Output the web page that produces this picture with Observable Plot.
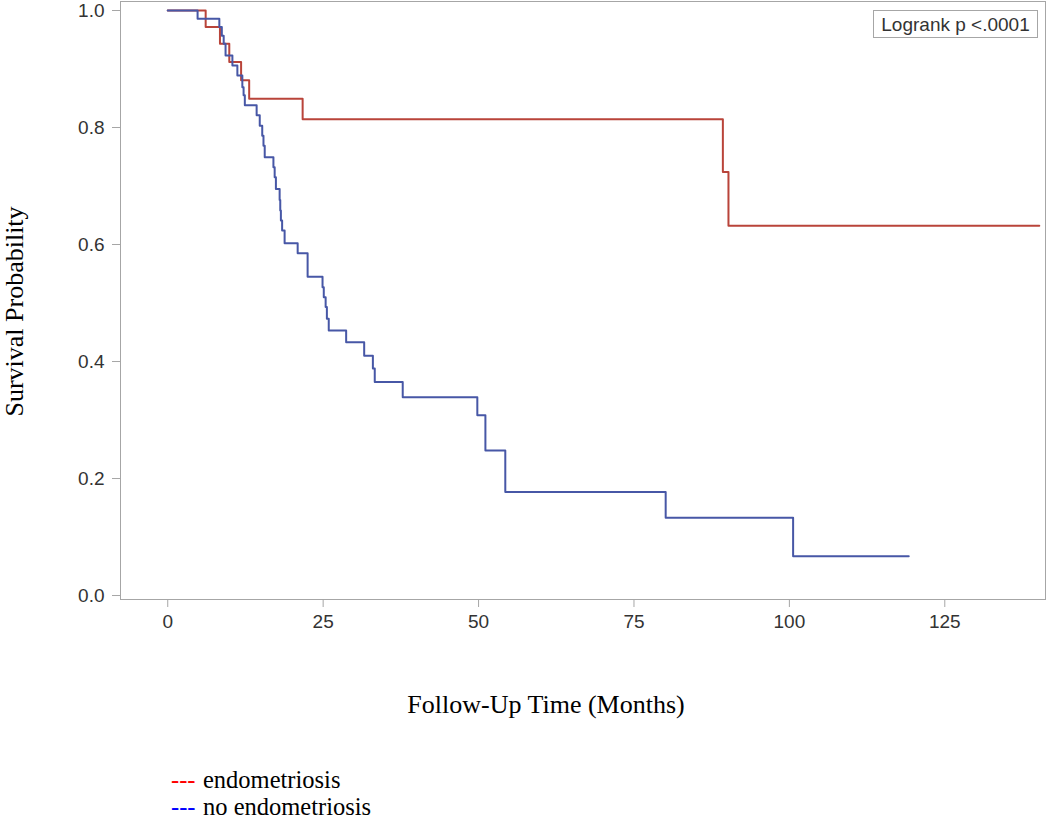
<!DOCTYPE html>
<html><head><meta charset="utf-8">
<script src="https://cdn.jsdelivr.net/npm/d3@7"></script>
<script src="https://cdn.jsdelivr.net/npm/@observablehq/plot@0.6"></script>
<style>
body{margin:0;background:#fff;}
#wrap{position:relative;width:1050px;height:820px;overflow:hidden;background:#fff;}
#wrap svg{display:block;overflow:visible;}
g[aria-label="x-axis label"] text, g[aria-label="y-axis label"] text{font-family:"Liberation Serif",serif;font-size:26px;fill:#000;}
#logrank{position:absolute;left:873px;top:10px;width:165px;height:28px;border:1px solid #a6a6a6;box-sizing:border-box;font-family:"Liberation Sans",sans-serif;font-size:19px;color:#333;line-height:27px;text-align:center;background:#fff;}
#legend{position:absolute;left:171px;top:766px;font-family:"Liberation Serif",serif;font-size:24.5px;line-height:27px;color:#000;}
#legend .dash{display:inline-block;width:32px;}
</style></head><body><div id="wrap"></div>
<script>
// Kaplan-Meier steps
const groups = ["endometriosis", "no endometriosis"];
const groupColors = ["#b9443a", "#4757a6"];
const legendColors = ["#ff0000", "#0000ff"];

const redTimes = [0, 6.1, 8.4, 9.9, 11.8, 13.1, 21.7, 89.3, 90.2];
const redSurv  = [1.0, 0.972, 0.943, 0.912, 0.881, 0.849, 0.814, 0.724, 0.632];
const redEnd = 140.2;

const blueTimes = [0, 4.8, 8.3, 8.7, 9.0, 9.3, 10.4, 11.2, 12.0, 12.2, 12.4, 14.3, 14.8, 15.2, 15.4, 15.6,
  17.0, 17.2, 17.4, 18.0, 18.1, 18.2, 18.4, 18.8, 20.9, 22.5, 24.9, 25.1, 25.4, 25.6, 25.9,
  28.7, 31.6, 33.0, 33.3, 37.8, 49.8, 51.1, 54.3, 80.1, 100.6];
const blueSurv = [1.0, 0.986, 0.972, 0.957, 0.943, 0.923, 0.906, 0.889, 0.869, 0.855, 0.838, 0.821, 0.803, 0.786, 0.769, 0.749,
  0.732, 0.715, 0.695, 0.676, 0.658, 0.641, 0.624, 0.602, 0.585, 0.545, 0.527, 0.510, 0.493, 0.473, 0.453,
  0.433, 0.410, 0.388, 0.365, 0.339, 0.308, 0.248, 0.177, 0.133, 0.067];
const blueEnd = 119.2;

const xTicks = [0, 25, 50, 75, 100, 125];
const yTicks = [0, 0.2, 0.4, 0.6, 0.8, 1.0];
const xTitle = "Follow-Up Time (Months)";
const yTitle = "Survival Probability";
const logrankText = "Logrank p <.0001";

function buildRows(times, surv, end, g) {
  const rows = times.map((t, i) => ({t, s: surv[i], g}));
  rows.push({t: end, s: surv[surv.length - 1], g});
  return rows;
}
const rows = [
  ...buildRows(redTimes, redSurv, redEnd, groups[0]),
  ...buildRows(blueTimes, blueSurv, blueEnd, groups[1])
];

const chart = Plot.plot({
  width: 1050, height: 740,
  marginLeft: 120, marginRight: 5, marginTop: 1, marginBottom: 141,
  x: {domain: [-7.6, 141.2]},
  y: {domain: [-0.0068, 1.0154]},
  color: {domain: groups, range: groupColors},
  style: {fontFamily: "Liberation Sans, sans-serif", fontSize: "19px", background: "white", color: "#333"},
  marks: [
    Plot.frame({stroke: "#a6a6a6"}),
    Plot.axisX({ticks: xTicks, tickSize: 8, tickPadding: 7, stroke: "#a6a6a6", fill: "#333", label: null}),
    Plot.axisX({ticks: [], label: xTitle, labelAnchor: "center", labelOffset: 113, labelArrow: "none"}),
    Plot.axisY({ticks: yTicks, tickFormat: d3.format(".1f"), tickSize: 8, tickPadding: 8, stroke: "#a6a6a6", fill: "#333", label: null}),
    Plot.axisY({ticks: [], label: yTitle, labelAnchor: "center", labelOffset: 116, labelArrow: "none"}),
    Plot.line(rows, {x: "t", y: "s", z: "g", stroke: "g", curve: "step-after", strokeWidth: 2})
  ]
});
// nudge the axis titles to where the reference has them
function nudge(sel, dx, dy) {
  const g = chart.querySelector(sel);
  if (g) g.setAttribute("transform", ((g.getAttribute("transform") || "") + ` translate(${dx},${dy})`).trim());
}
nudge('g[aria-label="x-axis label"]', -37, 0);
nudge('g[aria-label="y-axis label"]', 0, 11);

const wrap = document.getElementById("wrap");
wrap.appendChild(chart);

const box = document.createElement("div");
box.id = "logrank";
box.textContent = logrankText;
wrap.appendChild(box);

const legend = document.createElement("div");
legend.id = "legend";
groups.forEach((g, i) => {
  const row = document.createElement("div");
  const d = document.createElement("span");
  d.className = "dash";
  d.style.color = legendColors[i];
  d.textContent = "---";
  row.appendChild(d);
  row.appendChild(document.createTextNode(g));
  legend.appendChild(row);
});
wrap.appendChild(legend);
</script></body></html>
